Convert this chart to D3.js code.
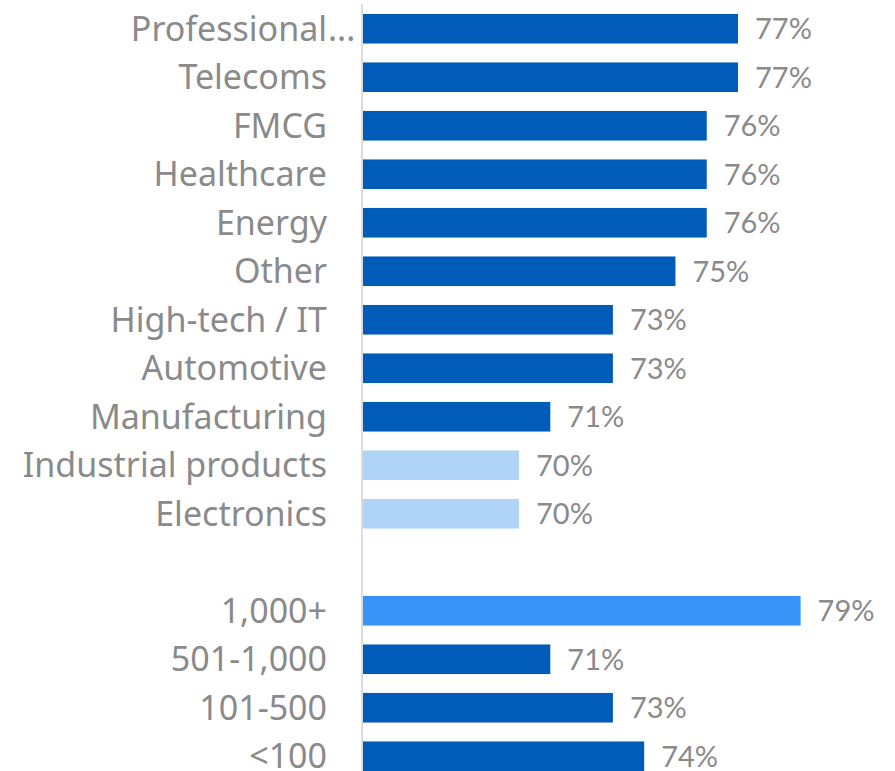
<!DOCTYPE html>
<html>
<head>
<meta charset="utf-8">
<script src="https://cdn.jsdelivr.net/npm/d3@7"></script>
<style>
  html, body { margin: 0; padding: 0; background: #fff; }
  svg { display: block; }
</style>
</head>
<body>
<svg id="chart" width="895" height="771"></svg>
<script>
// Share by industry (%)
const industries = ["Professional...", "Telecoms", "FMCG", "Healthcare", "Energy", "Other",
  "High-tech / IT", "Automotive", "Manufacturing", "Industrial products", "Electronics"];
const industryValues = [77, 77, 76, 76, 76, 75, 73, 73, 71, 70, 70];

// Share by company size (employees, %)
const sizes = ["1,000+", "501-1,000", "101-500", "<100"];
const sizeValues = [79, 71, 73, 74];

const axisMin = 65;

const colors = { base: "#005cb8", low: "#b0d4f8", high: "#3793f5" };
const textGray = "#8a8a8a";

const indMin = d3.min(industryValues);
const sizeMax = d3.max(sizeValues);

// One row per bar, with an empty spacer row between the two groups
const rows = [
  ...industries.map((c, i) => ({ key: "i" + i, label: c, value: industryValues[i],
    color: industryValues[i] === indMin ? colors.low : colors.base })),
  { key: "gap", label: "", value: null },
  ...sizes.map((c, i) => ({ key: "s" + i, label: c, value: sizeValues[i],
    color: sizeValues[i] === sizeMax ? colors.high : colors.base }))
];

const svg = d3.select("#chart");
const x0 = 362.6;

const x = d3.scaleLinear().domain([axisMin, 79]).range([x0, 800.6]);
const y = d3.scaleBand()
  .domain(rows.map(r => r.key))
  .range([4.5, 780.5])
  .paddingInner(0.39)
  .paddingOuter(0.195);

const data = rows.filter(r => r.value !== null);

// bars
svg.append("g").selectAll("rect").data(data).join("rect")
  .attr("x", x(axisMin))
  .attr("y", d => y(d.key))
  .attr("width", d => x(d.value) - x(axisMin))
  .attr("height", y.bandwidth())
  .attr("fill", d => d.color);

// vertical axis line
svg.append("line")
  .attr("x1", 362).attr("x2", 362)
  .attr("y1", 4).attr("y2", 771)
  .attr("stroke", "#dcdcdc").attr("stroke-width", 2);

// category labels
const labelX = 327;
const lab = svg.append("g")
  .attr("font-family", "'Noto Sans', sans-serif")
  .attr("font-size", 34)
  .attr("fill", textGray);

data.forEach(d => {
  const trunc = d.label.endsWith("...");
  const main = trunc ? d.label.slice(0, -3) : d.label;
  const cy = y(d.key) + y.bandwidth() / 2;
  lab.append("text")
    .attr("x", labelX).attr("y", cy).attr("dy", "0.36em")
    .attr("text-anchor", "end")
    .text(main);
  if (trunc) {
    lab.append("text")
      .attr("x", labelX + 1).attr("y", cy).attr("dy", "0.36em")
      .attr("text-anchor", "start")
      .text("...");
  }
});

// value labels
svg.append("g")
  .attr("font-family", "Lato, sans-serif")
  .attr("font-size", 29)
  .attr("fill", textGray)
  .selectAll("text").data(data).join("text")
  .attr("x", d => x(d.value) + 17)
  .attr("y", d => y(d.key) + y.bandwidth() / 2)
  .attr("dy", "0.36em")
  .text(d => d.value + "%");
</script>
</body>
</html>
